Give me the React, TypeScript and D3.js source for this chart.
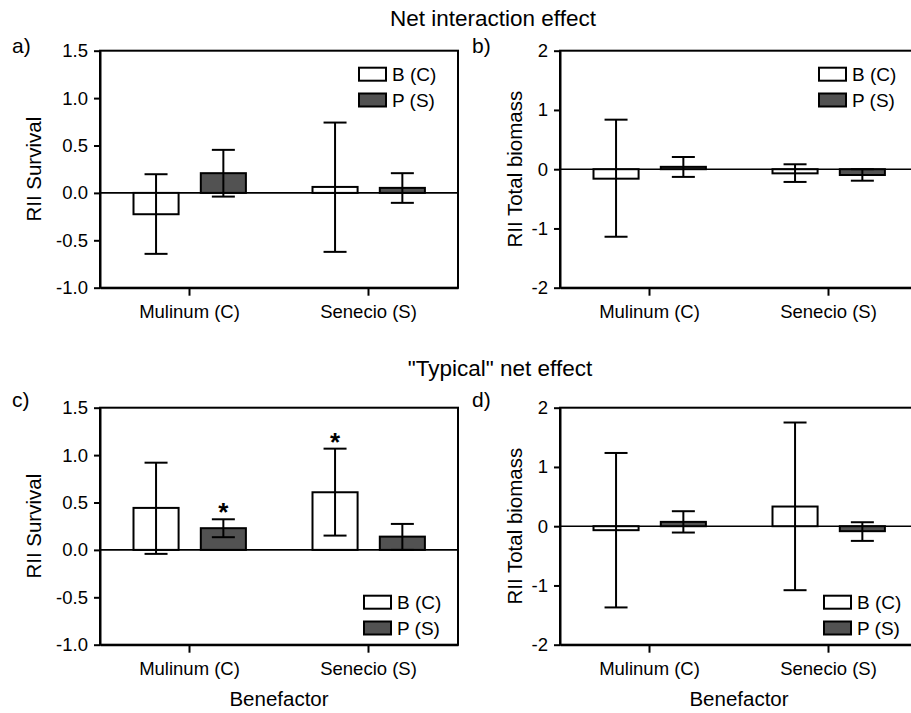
import { useEffect, useRef } from 'react'
import * as d3 from 'd3'

const categories = ['Mulinum (C)', 'Senecio (S)']
const seriesNames = ['B (C)', 'P (S)']
const seriesFills = ['#ffffff', '#525252']

const survivalTicks = [-1, -0.5, 0, 0.5, 1, 1.5]
const biomassTicks = [-2, -1, 0, 1, 2]

// a) net interaction effect, survival
const aMeanB = [-0.225, 0.063]
const aLowB = [-0.643, -0.622]
const aHighB = [0.197, 0.742]
const aMeanP = [0.208, 0.053]
const aLowP = [-0.039, -0.105]
const aHighP = [0.454, 0.208]

// b) net interaction effect, total biomass
const bMeanB = [-0.16, -0.07]
const bLowB = [-1.14, -0.215]
const bHighB = [0.836, 0.083]
const bMeanP = [0.04, -0.098]
const bLowP = [-0.13, -0.194]
const bHighP = [0.206, 0.0]

// c) "typical" net effect, survival
const cMeanB = [0.443, 0.608]
const cLowB = [-0.042, 0.151]
const cHighB = [0.92, 1.068]
const cMeanP = [0.229, 0.14]
const cLowP = [0.134, 0.0]
const cHighP = [0.323, 0.274]
const cStarsB = [false, true]
const cStarsP = [true, false]

// d) "typical" net effect, total biomass
const dMeanB = [-0.067, 0.332]
const dLowB = [-1.371, -1.08]
const dHighB = [1.236, 1.75]
const dMeanP = [0.073, -0.084]
const dLowP = [-0.107, -0.248]
const dHighP = [0.253, 0.067]

const noStars = [false, false]

const FONT = '"Liberation Sans", Arial, sans-serif'

export default function App() {
  const svgRef = useRef<SVGSVGElement>(null)

  useEffect(() => {
    if (!svgRef.current) return
    const svg = d3.select(svgRef.current)
    svg.selectAll('*').remove()

    const plotW = 358
    const plotH = 237

    const panels = [
      { label: 'a)', left: 100, top: 50.7, yTitle: 'RII Survival', domain: [-1, 1.5], ticks: survivalTicks, fmt: (d: number) => d.toFixed(1), titleOff: -59, means: [aMeanB, aMeanP], lows: [aLowB, aLowP], highs: [aHighB, aHighP], stars: [noStars, noStars], legendY: 17, legendX: 259, xTitle: false },
      { label: 'b)', left: 560, top: 50.7, yTitle: 'RII Total biomass', domain: [-2, 2], ticks: biomassTicks, fmt: (d: number) => String(d), titleOff: -38, means: [bMeanB, bMeanP], lows: [bLowB, bLowP], highs: [bHighB, bHighP], stars: [noStars, noStars], legendY: 17, legendX: 259, xTitle: false },
      { label: 'c)', left: 100, top: 407.7, yTitle: 'RII Survival', domain: [-1, 1.5], ticks: survivalTicks, fmt: (d: number) => d.toFixed(1), titleOff: -59, means: [cMeanB, cMeanP], lows: [cLowB, cLowP], highs: [cHighB, cHighP], stars: [cStarsB, cStarsP], legendY: 188, legendX: 264, xTitle: true },
      { label: 'd)', left: 560, top: 407.7, yTitle: 'RII Total biomass', domain: [-2, 2], ticks: biomassTicks, fmt: (d: number) => String(d), titleOff: -38, means: [dMeanB, dMeanP], lows: [dLowB, dLowP], highs: [dHighB, dHighP], stars: [noStars, noStars], legendY: 188, legendX: 264, xTitle: true },
    ]

    // Group titles
    svg.append('text')
      .attr('x', 493).attr('y', 26)
      .attr('text-anchor', 'middle')
      .attr('font-family', FONT).attr('font-size', '22.5px')
      .text('Net interaction effect')
    svg.append('text')
      .attr('x', 500).attr('y', 376)
      .attr('text-anchor', 'middle')
      .attr('font-family', FONT).attr('font-size', '22.5px')
      .text('"Typical" net effect')

    panels.forEach((p) => {
      const g = svg.append('g').attr('transform', `translate(${p.left},${p.top})`)

      const x = d3.scaleBand().domain(categories).range([0, plotW]).padding(0)
      const inner = d3.scaleBand().domain(seriesNames).range([-56, 56.4]).paddingInner(0.33)
      const y = d3.scaleLinear().domain(p.domain).range([plotH, 0])

      // Panel label
      svg.append('text')
        .attr('x', p.left - 88).attr('y', p.top + (p.top < 100 ? 2 : -1))
        .attr('font-family', FONT).attr('font-size', '21px')
        .text(p.label)

      // Frame
      g.append('rect')
        .attr('width', plotW).attr('height', plotH)
        .attr('fill', 'none').attr('stroke', '#000').attr('stroke-width', 2)

      // Zero line
      g.append('line')
        .attr('x1', 0).attr('x2', plotW)
        .attr('y1', y(0)).attr('y2', y(0))
        .attr('stroke', '#000').attr('stroke-width', 1.6)

      // Bars + error bars
      seriesNames.forEach((s, si) => {
        categories.forEach((c, ci) => {
          const cx = (x(c) || 0) + x.bandwidth() / 2 + (inner(s) || 0)
          const m = p.means[si][ci]
          g.append('rect')
            .attr('x', cx)
            .attr('y', Math.min(y(m), y(0)))
            .attr('width', inner.bandwidth())
            .attr('height', Math.abs(y(m) - y(0)))
            .attr('fill', seriesFills[si])
            .attr('stroke', '#000').attr('stroke-width', 2)

          const mid = cx + inner.bandwidth() / 2
          const lo = y(p.lows[si][ci])
          const hi = y(p.highs[si][ci])
          const cap = 11.5
          g.append('line').attr('x1', mid).attr('x2', mid).attr('y1', lo).attr('y2', hi)
            .attr('stroke', '#000').attr('stroke-width', 2)
          ;[lo, hi].forEach((yy) => {
            g.append('line').attr('x1', mid - cap).attr('x2', mid + cap).attr('y1', yy).attr('y2', yy)
              .attr('stroke', '#000').attr('stroke-width', 2)
          })

          if (p.stars[si][ci]) {
            g.append('text')
              .attr('x', mid).attr('y', hi + 2)
              .attr('text-anchor', 'middle')
              .attr('font-family', FONT).attr('font-size', '26px').attr('font-weight', 'bold')
              .text('*')
          }
        })
      })

      // Y axis
      const yAxis = g.append('g')
        .call(d3.axisLeft(y).tickValues(p.ticks).tickSize(6).tickSizeOuter(0).tickPadding(6).tickFormat((d) => p.fmt(d as number)))
      yAxis.select('.domain').attr('stroke-width', 2)
      yAxis.selectAll('.tick line').attr('stroke-width', 2)
      yAxis.selectAll('text').attr('font-family', FONT).attr('font-size', '18.5px').attr('fill', '#000')

      // X axis
      const xAxis = g.append('g')
        .attr('transform', `translate(0,${plotH})`)
        .call(d3.axisBottom(x).tickSize(8).tickSizeOuter(0).tickPadding(9))
      xAxis.select('.domain').attr('stroke-width', 2)
      xAxis.selectAll('.tick line').attr('stroke-width', 2)
      xAxis.selectAll('text').attr('font-family', FONT).attr('font-size', '18.5px').attr('fill', '#000')

      // Y title
      g.append('text')
        .attr('transform', `translate(${p.titleOff},${plotH / 2}) rotate(-90)`)
        .attr('text-anchor', 'middle')
        .attr('font-family', FONT).attr('font-size', '20.5px')
        .text(p.yTitle)

      // X title
      if (p.xTitle) {
        g.append('text')
          .attr('x', plotW / 2).attr('y', plotH + 61)
          .attr('text-anchor', 'middle')
          .attr('font-family', FONT).attr('font-size', '20.5px')
          .text('Benefactor')
      }

      // Legend
      seriesNames.forEach((s, si) => {
        const ly = p.legendY + si * 25.8
        g.append('rect')
          .attr('x', p.legendX).attr('y', ly)
          .attr('width', 27).attr('height', 13)
          .attr('fill', seriesFills[si])
          .attr('stroke', '#000').attr('stroke-width', 2)
        g.append('text')
          .attr('x', p.legendX + 33).attr('y', ly + 13.5)
          .attr('font-family', FONT).attr('font-size', '19px')
          .text(s)
      })
    })
  }, [])

  return (
    <svg
      ref={svgRef}
      width={911}
      height={713}
      style={{ position: 'absolute', left: 0, top: 0, background: '#fff' }}
    ></svg>
  )
}
